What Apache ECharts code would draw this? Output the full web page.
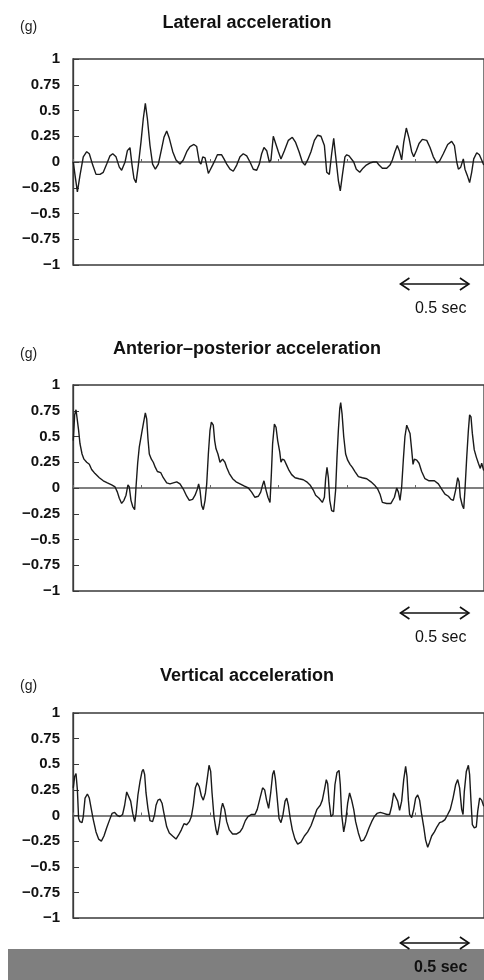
<!DOCTYPE html>
<html>
<head>
<meta charset="utf-8">
<script src="https://cdn.jsdelivr.net/npm/echarts@6/dist/echarts.min.js"></script>
<style>
html,body{margin:0;padding:0;background:#fff;}
#c{width:484px;height:980px;}
</style>
</head>
<body>
<div id="c"></div>
<script>
// ---- data (time in seconds, acceleration in g) ----
const panelTitles = ['Lateral acceleration', 'Anterior\u2013posterior acceleration', 'Vertical acceleration'];
const unitLabel = '(g)';
const scaleLabel = '0.5 sec';
const yTickLabels = ['\u22121', '\u22120.75', '\u22120.5', '\u22120.25', '0', '0.25', '0.5', '0.75', '1'];

const lateral = [
[0.002,0.00],[0.015,-0.13],[0.032,-0.29],[0.051,-0.13],[0.075,0.05],[0.100,0.10],[0.119,0.08],[0.144,-0.03],[0.168,-0.12],[0.197,-0.12],
[0.221,-0.10],[0.246,-0.02],[0.270,0.06],[0.290,0.08],[0.314,0.05],[0.338,-0.05],[0.355,-0.08],[0.380,0.00],[0.397,0.11],[0.416,0.14],
[0.431,-0.03],[0.445,-0.16],[0.460,-0.20],[0.477,-0.03],[0.496,0.19],[0.513,0.42],[0.528,0.57],[0.543,0.42],[0.562,0.16],[0.581,-0.02],
[0.601,-0.07],[0.623,-0.02],[0.647,0.13],[0.664,0.24],[0.684,0.30],[0.703,0.23],[0.728,0.10],[0.752,0.02],[0.781,-0.02],[0.805,0.02],
[0.830,0.10],[0.854,0.15],[0.883,0.17],[0.903,0.15],[0.922,0.00],[0.934,-0.02],[0.947,0.05],[0.964,0.04],[0.976,0.03],[0.988,-0.11],
[1.000,-0.08],[1.019,-0.03],[1.037,0.02],[1.054,0.07],[1.068,0.06],[1.085,0.07],[1.102,0.03],[1.122,-0.02],[1.146,-0.07],[1.170,-0.09],
[1.195,-0.03],[1.219,0.05],[1.243,0.08],[1.268,0.06],[1.292,0.00],[1.316,-0.07],[1.341,-0.08],[1.360,-0.02],[1.377,0.08],[1.394,0.14],
[1.414,0.11],[1.433,0.00],[1.445,0.02],[1.462,0.25],[1.499,0.10],[1.518,0.03],[1.543,0.11],[1.572,0.21],[1.601,0.24],[1.625,0.19],
[1.650,0.10],[1.674,0.00],[1.693,-0.03],[1.713,0.02],[1.737,0.10],[1.762,0.21],[1.786,0.26],[1.810,0.25],[1.835,0.16],[1.852,-0.10],
[1.871,-0.12],[1.888,0.08],[1.903,0.23],[1.917,0.06],[1.937,-0.18],[1.951,-0.28],[1.966,-0.13],[1.985,0.05],[1.998,0.07],[2.015,0.06],
[2.029,0.06],[2.049,0.00],[2.068,-0.07],[2.093,-0.10],[2.117,-0.06],[2.141,-0.03],[2.166,-0.01],[2.192,0.00],[2.217,0.00],[2.234,-0.03],
[2.258,-0.06],[2.290,-0.06],[2.314,-0.03],[2.331,0.02],[2.350,0.10],[2.367,0.16],[2.382,0.11],[2.399,0.02],[2.414,0.19],[2.433,0.33],
[2.453,0.23],[2.472,0.10],[2.487,0.05],[2.506,0.11],[2.526,0.18],[2.550,0.22],[2.582,0.21],[2.606,0.14],[2.630,0.05],[2.655,-0.01],
[2.676,0.01],[2.703,0.08],[2.735,0.17],[2.764,0.20],[2.784,0.16],[2.801,0.00],[2.813,-0.07],[2.830,-0.05],[2.849,0.03],[2.861,-0.07],
[2.878,-0.13],[2.895,-0.20],[2.910,-0.10],[2.925,0.03],[2.947,0.09],[2.966,0.07],[2.983,0.02],[2.998,-0.03]
];

const anteriorPosterior = [
[0.002,0.46],[0.012,0.71],[0.022,0.76],[0.032,0.75],[0.041,0.56],[0.051,0.43],[0.066,0.33],[0.080,0.28],[0.100,0.25],[0.119,0.23],
[0.136,0.18],[0.161,0.14],[0.192,0.10],[0.221,0.07],[0.251,0.05],[0.282,0.03],[0.307,0.01],[0.324,-0.04],[0.338,-0.10],[0.355,-0.15],
[0.372,-0.12],[0.387,-0.07],[0.401,0.03],[0.411,0.01],[0.423,-0.12],[0.436,-0.18],[0.450,-0.21],[0.460,0.01],[0.472,0.24],[0.484,0.40],
[0.501,0.53],[0.513,0.62],[0.528,0.73],[0.538,0.67],[0.547,0.48],[0.557,0.33],[0.572,0.28],[0.586,0.25],[0.601,0.20],[0.616,0.16],
[0.640,0.15],[0.659,0.10],[0.684,0.05],[0.708,0.04],[0.732,0.05],[0.757,0.06],[0.781,0.04],[0.805,-0.01],[0.830,-0.08],[0.849,-0.12],
[0.873,-0.11],[0.891,-0.07],[0.908,-0.01],[0.917,0.04],[0.927,-0.02],[0.939,-0.17],[0.951,-0.21],[0.964,-0.12],[0.976,0.04],[0.988,0.33],
[1.000,0.56],[1.010,0.64],[1.024,0.61],[1.034,0.46],[1.044,0.38],[1.058,0.33],[1.073,0.25],[1.092,0.28],[1.109,0.25],[1.122,0.20],
[1.141,0.14],[1.165,0.09],[1.190,0.06],[1.219,0.04],[1.248,0.02],[1.280,0.00],[1.304,-0.04],[1.328,-0.09],[1.353,-0.08],[1.370,-0.04],
[1.384,0.03],[1.394,0.07],[1.409,-0.02],[1.423,-0.09],[1.438,-0.14],[1.448,0.14],[1.457,0.43],[1.470,0.62],[1.482,0.59],
[1.494,0.46],[1.509,0.35],[1.518,0.25],[1.528,0.28],[1.543,0.27],[1.560,0.22],[1.577,0.17],[1.596,0.13],[1.621,0.10],[1.650,0.09],
[1.681,0.08],[1.706,0.06],[1.730,0.03],[1.754,-0.02],[1.771,-0.07],[1.796,-0.10],[1.820,-0.14],[1.835,-0.09],[1.844,0.09],[1.854,0.20],
[1.864,0.10],[1.874,-0.12],[1.888,-0.22],[1.903,-0.23],[1.917,-0.02],[1.927,0.30],[1.937,0.56],[1.947,0.77],[1.954,0.83],[1.964,0.72],
[1.976,0.50],[1.990,0.33],[2.005,0.27],[2.022,0.23],[2.039,0.20],[2.058,0.16],[2.083,0.11],[2.112,0.10],[2.144,0.09],[2.175,0.06],
[2.200,0.03],[2.224,-0.01],[2.241,-0.06],[2.258,-0.14],[2.290,-0.15],[2.321,-0.15],[2.346,-0.09],[2.363,0.00],[2.375,-0.04],[2.387,-0.12],
[2.399,0.01],[2.411,0.27],[2.423,0.50],[2.436,0.61],[2.448,0.62],[2.460,0.53],[2.472,0.37],[2.482,0.23],[2.492,0.28],[2.509,0.27],
[2.526,0.24],[2.545,0.16],[2.569,0.09],[2.599,0.07],[2.638,0.07],[2.667,0.04],[2.691,-0.01],[2.715,-0.06],[2.740,-0.08],[2.759,-0.11],
[2.776,-0.12],[2.793,-0.02],[2.808,0.10],[2.818,0.06],[2.827,-0.09],[2.842,-0.17],[2.852,-0.20],[2.861,-0.02],[2.874,0.30],[2.886,0.56],
[2.895,0.71],[2.905,0.69],[2.915,0.53],[2.929,0.37],[2.944,0.30],[2.959,0.24],[2.973,0.19],[2.983,0.24],[2.998,0.17]
];

const vertical = [
[0.002,0.27],[0.012,0.38],[0.022,0.41],[0.032,0.25],[0.041,-0.03],[0.051,-0.06],[0.066,-0.07],[0.075,-0.01],[0.088,0.17],[0.105,0.21],
[0.119,0.17],[0.134,0.06],[0.148,-0.04],[0.168,-0.16],[0.187,-0.23],[0.207,-0.25],[0.226,-0.20],[0.246,-0.12],[0.265,-0.05],[0.285,0.02],
[0.304,0.03],[0.324,0.00],[0.343,-0.01],[0.362,0.01],[0.377,0.10],[0.392,0.23],[0.406,0.22],[0.421,0.14],[0.436,0.02],[0.450,-0.06],
[0.460,0.01],[0.474,0.20],[0.489,0.33],[0.504,0.43],[0.513,0.45],[0.523,0.40],[0.533,0.22],[0.547,0.07],[0.562,-0.05],[0.581,-0.06],
[0.596,0.01],[0.606,0.10],[0.620,0.15],[0.635,0.16],[0.650,0.12],[0.664,0.02],[0.684,-0.11],[0.703,-0.17],[0.727,-0.20],[0.752,-0.23],
[0.771,-0.19],[0.791,-0.14],[0.810,-0.08],[0.830,-0.09],[0.849,-0.06],[0.864,-0.01],[0.878,0.10],[0.893,0.27],[0.907,0.32],[0.922,0.28],
[0.937,0.19],[0.951,0.15],[0.966,0.22],[0.980,0.36],[0.993,0.49],[1.005,0.43],[1.015,0.22],[1.029,-0.01],[1.044,-0.14],[1.054,-0.19],
[1.068,-0.09],[1.083,0.07],[1.092,0.12],[1.107,0.06],[1.122,-0.06],[1.141,-0.14],[1.165,-0.18],[1.195,-0.18],[1.219,-0.16],[1.238,-0.12],
[1.258,-0.05],[1.277,-0.01],[1.304,0.01],[1.328,0.01],[1.345,0.06],[1.365,0.17],[1.384,0.27],[1.399,0.25],[1.413,0.15],[1.428,0.07],
[1.443,0.22],[1.457,0.40],[1.467,0.44],[1.477,0.36],[1.487,0.22],
[1.504,-0.03],[1.518,-0.07],[1.533,0.01],[1.548,0.14],[1.560,0.17],[1.572,0.10],[1.586,-0.03],[1.601,-0.14],[1.620,-0.23],[1.640,-0.28],
[1.664,-0.26],[1.689,-0.20],[1.713,-0.16],[1.737,-0.10],[1.762,-0.01],[1.781,0.06],[1.805,0.10],[1.820,0.15],[1.835,0.25],[1.849,0.35],
[1.859,0.31],[1.869,0.14],[1.883,-0.01],[1.898,0.01],[1.912,0.30],[1.927,0.42],[1.942,0.44],[1.951,0.30],[1.961,0.01],[1.976,-0.16],
[1.990,-0.06],[2.005,0.12],[2.019,0.22],[2.034,0.15],[2.049,0.06],[2.063,-0.06],[2.083,-0.17],[2.102,-0.25],[2.122,-0.24],[2.141,-0.19],
[2.161,-0.12],[2.180,-0.06],[2.200,-0.01],[2.219,0.02],[2.243,0.03],[2.268,0.02],[2.292,0.01],[2.311,0.01],[2.326,0.09],[2.341,0.22],
[2.355,0.21],[2.370,0.14],[2.384,0.05],[2.399,0.14],[2.414,0.35],[2.428,0.48],[2.438,0.38],[2.448,0.15],[2.457,0.01],[2.472,-0.02],
[2.487,0.06],[2.501,0.17],[2.516,0.20],[2.530,0.15],[2.545,0.01],[2.560,-0.11],[2.574,-0.24],[2.589,-0.31],[2.603,-0.26],[2.618,-0.20],
[2.638,-0.16],[2.657,-0.11],[2.676,-0.07],[2.696,-0.06],[2.715,-0.04],[2.735,0.01],[2.754,0.06],[2.774,0.17],[2.793,0.30],[2.808,0.35],
[2.822,0.27],[2.837,0.06],[2.847,0.01],[2.856,0.23],[2.871,0.43],[2.886,0.49],[2.895,0.40],[2.905,0.14],[2.915,-0.09],[2.929,-0.12],
[2.944,-0.11],[2.954,0.04],[2.968,0.17],[2.983,0.15],[2.998,0.09]
];

const seriesData = [lateral, anteriorPosterior, vertical];

// ---- layout ----
const gridTops = [59, 385, 713];
const gridH = [206, 206, 205];
const titleY = [23, 349, 676];
const unitY = [27, 354, 686];
const arrowY = [284, 613, 943];
const scaleTextY = [309, 638, 968];
const labelFont = '"Liberation Sans", Arial, sans-serif';

const chart = echarts.init(document.getElementById('c'), null, {renderer: 'canvas'});

const grids = [], xAxes = [], yAxes = [], series = [];
for (let i = 0; i < 3; i++) {
  grids.push({left: 73, right: 0, top: gridTops[i], height: gridH[i], show: true,
    borderColor: '#3a3a3a', borderWidth: 1.3, backgroundColor: 'transparent'});
  xAxes.push({type: 'value', gridIndex: i, min: 0, max: 3, interval: 0.5,
    axisLine: {onZero: true, lineStyle: {color: '#555', width: 1.6}},
    axisTick: {show: true, inside: true, length: 3, lineStyle: {color: '#666'}},
    axisLabel: {show: false}, splitLine: {show: false}});
  yAxes.push({type: 'value', gridIndex: i, min: -1, max: 1, interval: 0.25,
    axisLine: {show: true, onZero: false, lineStyle: {color: '#3a3a3a', width: 1.3}},
    axisTick: {show: true, inside: true, length: 6, lineStyle: {color: '#3a3a3a'}},
    axisLabel: {margin: 13, color: '#111', fontWeight: 'bold', fontSize: 15, fontFamily: labelFont,
      formatter: (v, idx) => yTickLabels[idx]},
    splitLine: {show: false}});
  series.push({type: 'line', xAxisIndex: i, yAxisIndex: i, data: seriesData[i],
    showSymbol: false, symbol: 'none', smooth: false, silent: true,
    lineStyle: {color: '#1a1a1a', width: 1.4}});
}

chart.setOption({
  animation: false,
  backgroundColor: '#fff',
  grid: grids, xAxis: xAxes, yAxis: yAxes, series: series
});

// ---- annotations ----
const graphics = [];
graphics.push({type: 'rect', shape: {x: 8, y: 949, width: 476, height: 31}, style: {fill: '#7f7f7f'}, z: 0});
for (let i = 0; i < 3; i++) {
  graphics.push({type: 'text', style: {text: panelTitles[i], x: 247, y: titleY[i], textAlign: 'center',
    textVerticalAlign: 'middle', font: 'bold 18px ' + labelFont, fill: '#111'}, z: 10});
  graphics.push({type: 'text', style: {text: unitLabel, x: 20, y: unitY[i], textAlign: 'left',
    textVerticalAlign: 'middle', font: '14px ' + labelFont, fill: '#222'}, z: 10});
  const p1 = chart.convertToPixel({gridIndex: i}, [2.39, 0]);
  const p2 = chart.convertToPixel({gridIndex: i}, [2.89, 0]);
  const x1 = p1[0], x2 = p2[0], y = arrowY[i];
  const st = {stroke: '#111', lineWidth: 1.6, fill: null};
  graphics.push({type: 'line', shape: {x1: x1, y1: y, x2: x2, y2: y}, style: st, z: 10});
  graphics.push({type: 'polyline', shape: {points: [[x1 + 9, y - 6], [x1, y], [x1 + 9, y + 6]]}, style: st, z: 10});
  graphics.push({type: 'polyline', shape: {points: [[x2 - 9, y - 6], [x2, y], [x2 - 9, y + 6]]}, style: st, z: 10});
  graphics.push({type: 'text', style: {text: scaleLabel, x: (x1 + x2) / 2 + 6, y: scaleTextY[i], textAlign: 'center',
    textVerticalAlign: 'middle', font: (i === 2 ? 'bold ' : '') + '16px ' + labelFont, fill: '#111'}, z: 10});
}
chart.setOption({graphic: graphics});
</script>
</body>
</html>
